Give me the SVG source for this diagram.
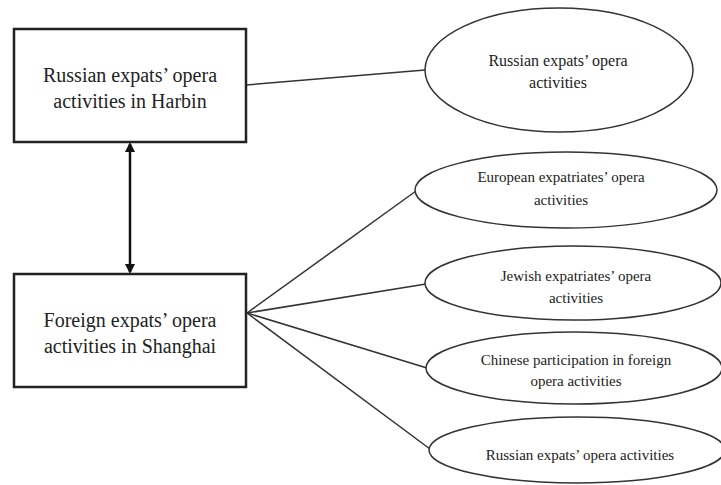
<svg xmlns="http://www.w3.org/2000/svg" width="721" height="485" viewBox="0 0 721 485">
<style>
.box{fill:#fff;stroke:#222;stroke-width:2.5}
.ell{fill:#fff;stroke:#333;stroke-width:1.5}
.t{font-family:"Liberation Serif","Times New Roman",serif;fill:#222;text-anchor:middle}
.bt{font-size:20px}
.et{font-size:15px}
.c{stroke:#333;stroke-width:1.5;fill:none}
</style>
<defs>
<marker id="ah" markerWidth="10" markerHeight="10" refX="8" refY="5" orient="auto-start-reverse" markerUnits="userSpaceOnUse">
<path d="M0,0 L10,5 L0,10 z" fill="#111"/>
</marker>
</defs>
<rect width="721" height="485" fill="#fff"/>
<g id="connectors">
<line class="c" x1="246" y1="85" x2="425" y2="70"/>
<line class="c" x1="247" y1="313" x2="416" y2="191"/>
<line class="c" x1="247" y1="313" x2="426" y2="284"/>
<line class="c" x1="247" y1="313" x2="427" y2="368"/>
<line class="c" x1="247" y1="313" x2="430" y2="449"/>
<line x1="130" y1="144" x2="130" y2="272" stroke="#111" stroke-width="2.5" marker-start="url(#ah)" marker-end="url(#ah)"/>
</g>
<g id="harbin">
<rect class="box" x="14" y="29" width="232" height="113"/>
<text class="t bt" x="130" y="82">Russian expats’ opera</text>
<text class="t bt" x="130" y="108">activities in Harbin</text>
</g>
<g id="shanghai">
<rect class="box" x="14" y="274" width="232" height="113"/>
<text class="t bt" x="130" y="327">Foreign expats’ opera</text>
<text class="t bt" x="130" y="353">activities in Shanghai</text>
</g>
<g id="e1">
<ellipse class="ell" cx="559" cy="70" rx="134" ry="62"/>
<text class="t" style="font-size:16px" x="558" y="66">Russian expats’ opera</text>
<text class="t" style="font-size:16px" x="558" y="88">activities</text>
</g>
<g id="e2">
<ellipse class="ell" cx="566" cy="190" rx="151" ry="38"/>
<text class="t et" x="561" y="182">European expatriates’ opera</text>
<text class="t et" x="561" y="205">activities</text>
</g>
<g id="e3">
<ellipse class="ell" cx="573" cy="283" rx="148" ry="37"/>
<text class="t et" x="576" y="281">Jewish expatriates’ opera</text>
<text class="t et" x="576" y="303">activities</text>
</g>
<g id="e4">
<ellipse class="ell" cx="574" cy="368" rx="148" ry="36"/>
<text class="t et" x="576" y="365">Chinese participation in foreign</text>
<text class="t et" x="576" y="386">opera activities</text>
</g>
<g id="e5">
<ellipse class="ell" cx="577" cy="450" rx="148" ry="33"/>
<text class="t et" x="580" y="460">Russian expats’ opera activities</text>
</g>
</svg>
